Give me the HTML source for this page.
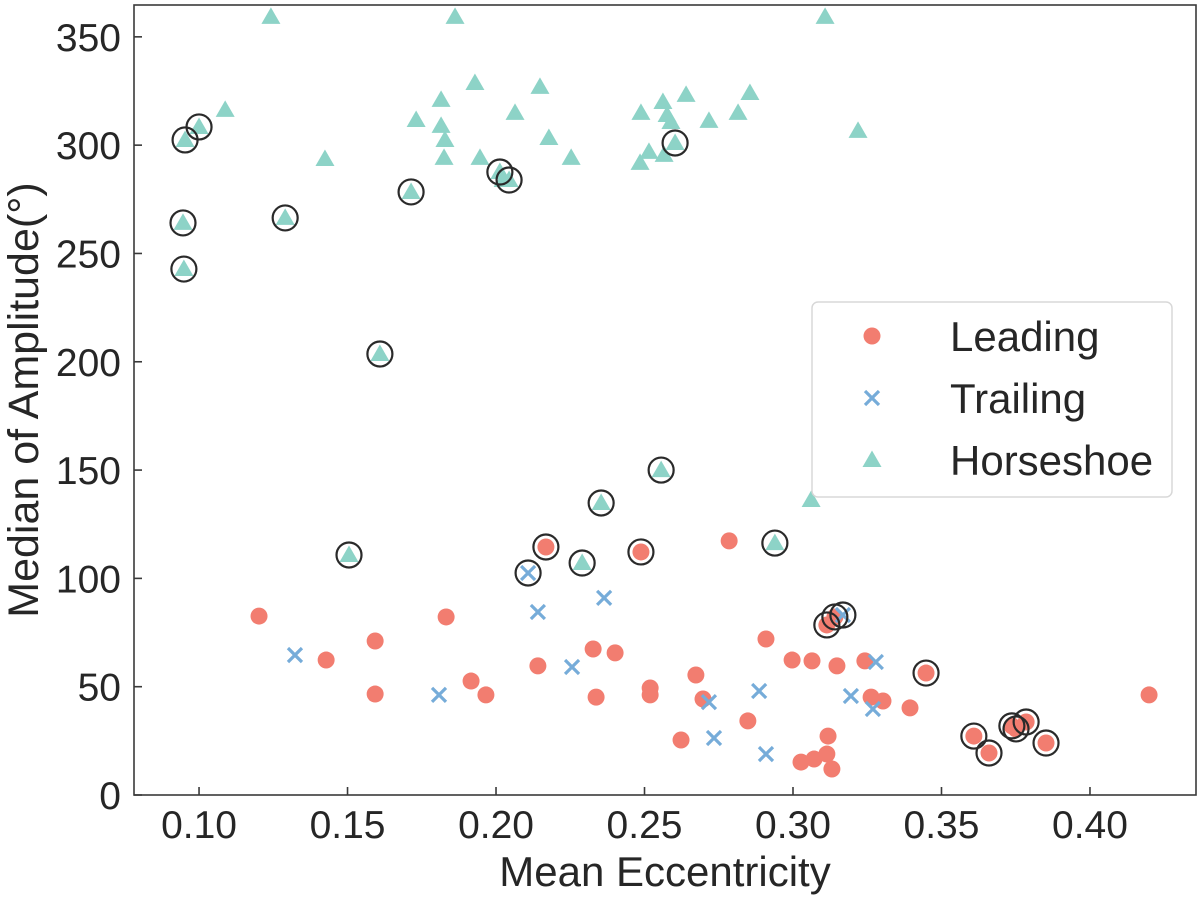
<!DOCTYPE html>
<html><head><meta charset="utf-8"><style>
body{margin:0;background:#fff;}
svg text{font-family:"Liberation Sans",sans-serif;fill:#262626;}
</style></head><body>
<svg id="chart" width="1200" height="896" xmlns="http://www.w3.org/2000/svg">
<rect width="1200" height="896" fill="#fff"/>
<g id="marks"></g>
<g id="axes"></g>
</svg>
<script>
const leadX=[0.1202,0.1428,0.1593,0.1593,0.1832,0.1916,0.1966,0.2168,0.2141,0.2327,0.2401,0.2337,0.2488,0.2519,0.2519,0.2623,0.2673,0.2697,0.2785,0.2848,0.2909,0.2997,0.3064,0.3148,0.3242,0.3263,0.3303,0.3394,0.3448,0.3114,0.3141,0.3118,0.3027,0.3071,0.3114,0.3131,0.3609,0.3660,0.3737,0.3751,0.3785,0.3852,0.4199];
const leadY=[82.6,62.3,71.1,46.6,82.2,52.6,46.2,114.5,59.6,67.4,65.6,45.2,112.2,49.4,46.2,25.4,55.4,44.3,117.3,34.2,72.0,62.3,61.9,59.6,61.9,45.2,43.4,40.2,56.3,78.5,82.2,27.2,15.2,16.6,18.9,12.0,27.2,19.4,31.9,30.5,33.7,24.0,46.2];
const leadSel=[0,0,0,0,0,0,0,1,0,0,0,0,1,0,0,0,0,0,0,0,0,0,0,0,0,0,0,0,1,1,1,0,0,0,0,0,1,1,1,1,1,1,0];
const trailX=[0.1323,0.1808,0.2108,0.2141,0.2256,0.2364,0.2717,0.2734,0.2886,0.2909,0.3195,0.3279,0.3269,0.3168];
const trailY=[64.6,46.2,102.5,84.5,59.1,91.0,42.9,26.3,48.0,18.9,45.7,61.4,39.7,83.1];
const trailSel=[0,0,1,0,0,0,0,0,0,0,0,0,0,1];
const horseX=[0.1242,0.1862,0.3108,0.1929,0.2148,0.2640,0.1088,0.1000,0.0953,0.1815,0.1731,0.1815,0.2064,0.2488,0.2562,0.2576,0.2589,0.1828,0.1424,0.1825,0.1946,0.2178,0.2253,0.2515,0.2485,0.2566,0.2603,0.2013,0.2024,0.2044,0.1714,0.1290,0.0946,0.0949,0.2717,0.2815,0.2855,0.3219,0.1609,0.2939,0.3061,0.2556,0.2354,0.2290,0.1505];
const horseY=[359.2,359.2,359.2,328.7,326.9,323.2,316.3,308.4,302.4,320.9,311.6,308.9,314.9,314.9,319.9,313.9,310.7,302.4,293.6,294.1,294.1,303.3,294.1,296.9,291.8,295.5,301.0,287.6,283.9,283.9,278.4,266.4,264.1,242.8,311.2,314.9,324.1,306.6,203.6,116.3,136.2,150.0,134.8,107.1,110.8];
const horseSel=[0,0,0,0,0,0,0,1,1,0,0,0,0,0,0,0,0,0,0,0,0,0,0,0,0,0,1,1,0,1,1,1,1,1,0,0,0,0,1,1,0,1,1,1,1];
const xTicks=[0.10,0.15,0.20,0.25,0.30,0.35,0.40];
const xTickLabels=["0.10","0.15","0.20","0.25","0.30","0.35","0.40"];
const yTicks=[0,50,100,150,200,250,300,350];
const yTickLabels=["0","50","100","150","200","250","300","350"];

const L=134,R=1196,T=5,B=795;
const XMIN=0.0781,XMAX=0.4357,YMIN=0,YMAX=364.7;
const sx=v=>L+(v-XMIN)/(XMAX-XMIN)*(R-L);
const sy=v=>B-(v-YMIN)/(YMAX-YMIN)*(B-T);
const NS="http://www.w3.org/2000/svg";
const marks=document.getElementById('marks');
const axes=document.getElementById('axes');
function mk(tag,attrs,parent){const e=document.createElementNS(NS,tag);for(const k in attrs)e.setAttribute(k,attrs[k]);parent.appendChild(e);return e;}
const RED="#f27d70",BLUE="#76acd9",TEAL="#8dd3c7";
function circleMark(x,y,p){const e=mk('circle',{cx:x,cy:y,r:8.5,fill:RED},p);return e;}
function crossMark(x,y,p){const d=7;const e=mk('path',{d:`M${x-d},${y-d}L${x+d},${y+d}M${x-d},${y+d}L${x+d},${y-d}`,stroke:BLUE,'stroke-width':3.2,fill:'none'},p);return e;}
function triMark(x,y,p){const e=mk('path',{d:`M${x},${y-9.5}L${x+9.5},${y+7}L${x-9.5},${y+7}Z`,fill:TEAL},p);return e;}
function ring(x,y,p){const e=mk('circle',{cx:x,cy:y,r:12.5,fill:'none',stroke:'#2a2a2a','stroke-width':2.2},p);

}
horseX.forEach((v,i)=>{const e=triMark(sx(v),sy(horseY[i]),marks);

});
leadX.forEach((v,i)=>{const e=circleMark(sx(v),sy(leadY[i]),marks);

});
trailX.forEach((v,i)=>{const e=crossMark(sx(v),sy(trailY[i]),marks);

});
horseX.forEach((v,i)=>{if(horseSel[i])ring(sx(v),sy(horseY[i]),marks);});
leadX.forEach((v,i)=>{if(leadSel[i])ring(sx(v),sy(leadY[i]),marks);});
trailX.forEach((v,i)=>{if(trailSel[i])ring(sx(v),sy(trailY[i]),marks);});

const frame=mk('rect',{x:L,y:T,width:R-L,height:B-T,fill:'none',stroke:'#3a3a3a','stroke-width':1.6},axes);


xTicks.forEach((v,i)=>{const x=sx(v);
const t=mk('line',{x1:x,x2:x,y1:B,y2:B-8,stroke:'#3a3a3a','stroke-width':1.6},axes);


const l=mk('text',{x:x,y:B+43,'text-anchor':'middle','font-size':39},axes);l.textContent=xTickLabels[i];

});
yTicks.forEach((v,i)=>{const y=sy(v);
const t=mk('line',{x1:L,x2:L+8,y1:y,y2:y,stroke:'#3a3a3a','stroke-width':1.6},axes);


const l=mk('text',{x:L-13,y:y+14,'text-anchor':'end','font-size':39},axes);l.textContent=yTickLabels[i];

});
const xt=mk('text',{x:665,y:886,'text-anchor':'middle','font-size':42},axes);xt.textContent='Mean Eccentricity';


const yt=mk('text',{x:0,y:0,'text-anchor':'middle','font-size':43,transform:'translate(38,400) rotate(-90)'},axes);yt.textContent='Median of Amplitude(°)';



const lg=mk('g',{},axes);


mk('rect',{x:812,y:302,width:360,height:195,rx:6,fill:'#fff',stroke:'#d8d8d8','stroke-width':1.5},lg);
const names=["Leading","Trailing","Horseshoe"];
const ly=[336,398,460];
[circleMark,crossMark,triMark].forEach((f,i)=>{f(872,ly[i],lg);
const t=mk('text',{x:950,y:ly[i]+15,'font-size':42},lg);t.textContent=names[i];

});
</script>
</body></html>
